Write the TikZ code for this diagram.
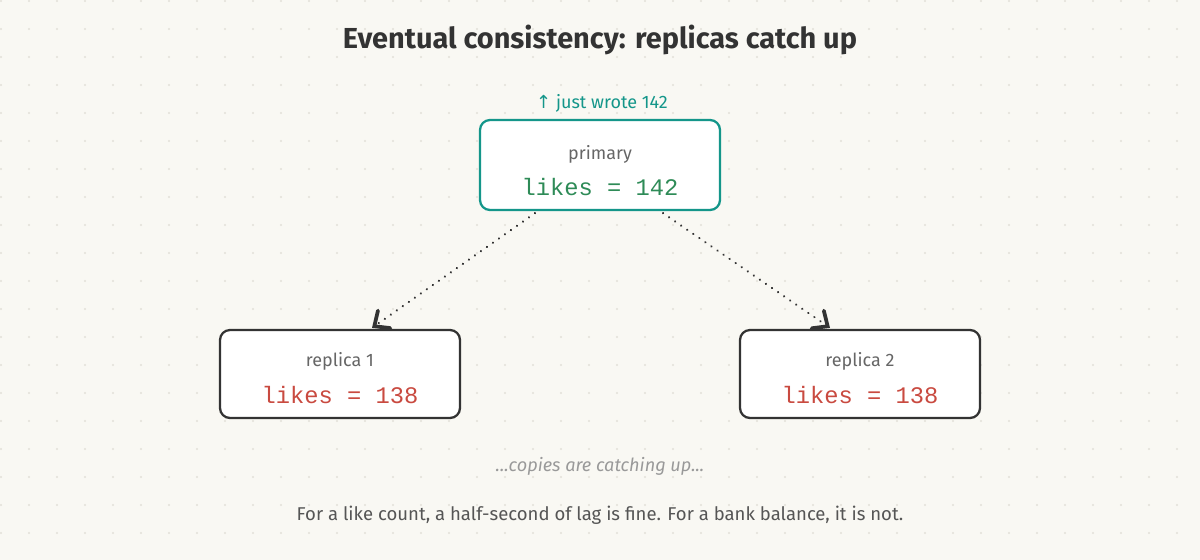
\documentclass[tikz,border=0pt]{standalone}
\usepackage{fontspec}
\setmainfont{Fira Sans}
\newfontfamily\monofont{Liberation Mono}
\newfontfamily\symfont{DejaVu Sans}
\usetikzlibrary{arrows.meta,calc}
\definecolor{bgc}{HTML}{F9F8F3}
\definecolor{dotc}{HTML}{E2E0D9}
\definecolor{inkc}{HTML}{333333}
\definecolor{tealc}{HTML}{14968A}
\definecolor{greenc}{HTML}{2E8B57}
\definecolor{redc}{HTML}{C94A40}
\definecolor{lblc}{HTML}{666666}
\definecolor{capc}{HTML}{555555}
\definecolor{softc}{HTML}{999999}
\begin{document}
\begin{tikzpicture}[x=0.75pt,y=-0.75pt,
  box/.style={draw, rounded corners=7.5pt, fill=white, line width=1.7pt, minimum width=180pt, inner sep=0pt},
  lbl/.style={text=lblc, font=\fontsize{13.5pt}{15pt}\selectfont, inner sep=0pt},
  val/.style={font=\fontsize{17.8pt}{20pt}\monofont, inner sep=0pt},
  conn/.style={draw=inkc, line width=1.8pt, dash pattern=on 0.01pt off 5.5pt, line cap=round, -{Straight Barb[length=9pt, width=16pt, line width=2.8pt, line cap=round]}},
  titlestyle/.style={text=inkc, font=\fontsize{21.7pt}{25pt}\selectfont\bfseries, inner sep=0pt},
  notestyle/.style={text=tealc, font=\fontsize{13.5pt}{15pt}\selectfont, inner sep=0pt},
  softstyle/.style={text=softc, font=\fontsize{13.6pt}{15pt}\selectfont\itshape, inner sep=0pt},
  capstyle/.style={text=capc, font=\fontsize{13.9pt}{16pt}\selectfont, inner sep=0pt}]
\useasboundingbox (0,0) rectangle (1200,560);
\fill[bgc] (0,0) rectangle (1200,560);
\foreach \i in {0,...,42} {\foreach \j in {0,...,19} {\fill[dotc] (1+28*\i,1+28*\j) circle (1.1);}}
\node[titlestyle] (title) at (600,40) {Eventual consistency: replicas catch up};
\node[notestyle] (note) at (602,103) {{\symfont ↑} just wrote 142};
\node[box, draw=tealc, minimum height=67.5pt] (prim) at (600,165) {};
\node[lbl] (primlbl) at (600,154) {primary};
\node[val, text=greenc] (primval) at (600,187) {likes = 142};
\node[box, draw=inkc, minimum height=66pt] (rep1) at (340,374) {};
\node[lbl] (rep1lbl) at (340,361) {replica 1};
\node[val, text=redc] (rep1val) at (340,395) {likes = 138};
\node[box, draw=inkc, minimum height=66pt] (rep2) at (860,374) {};
\node[lbl] (rep2lbl) at (860,361) {replica 2};
\node[val, text=redc] (rep2val) at (860,395) {likes = 138};
\draw[conn] ($(prim.south)+(-65,2)$) -- ($(rep1.north)+(32,-1)$);
\draw[conn] ($(prim.south)+(63,2)$) -- ($(rep2.north)+(-30,-1)$);
\node[softstyle] (soft) at (600,466) {...copies are catching up...};
\node[capstyle] (cap) at (600,515) {For a like count, a half-second of lag is fine. For a bank balance, it is not.};
\end{tikzpicture}
\end{document}
